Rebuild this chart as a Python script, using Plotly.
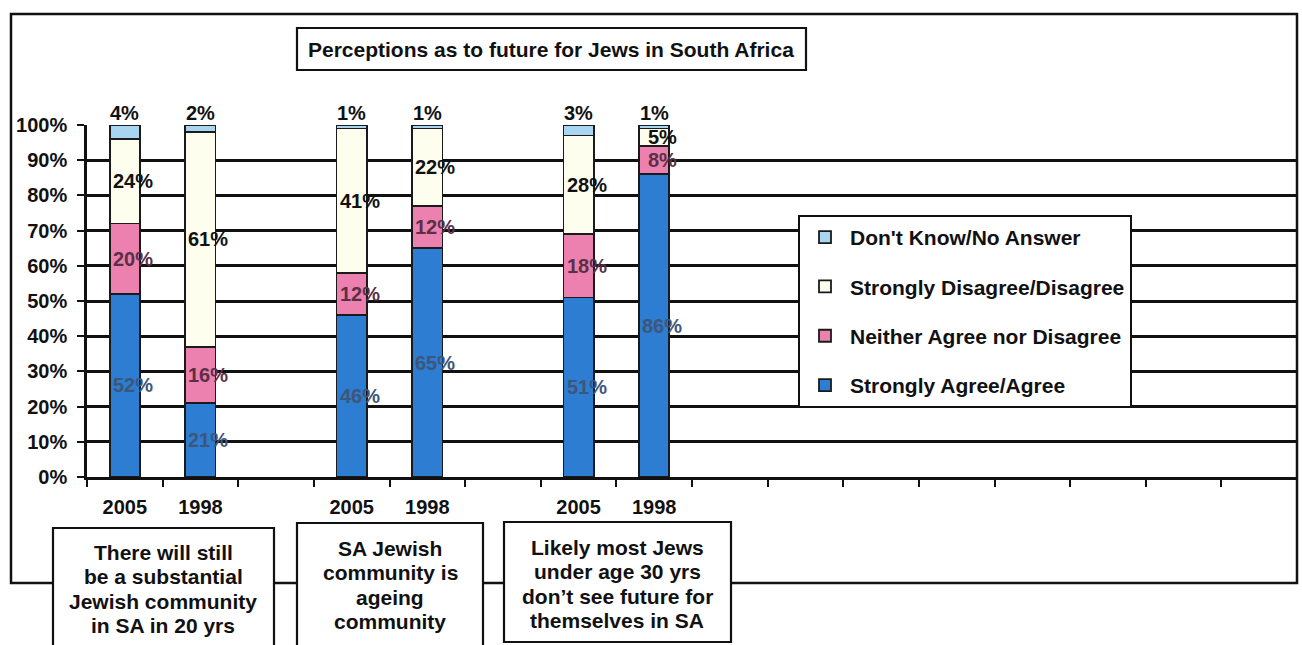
import plotly.graph_objects as go

# Survey responses (percent) per question and survey year
slots = [0, 1, 3, 4, 6, 7]
years = ["2005", "1998", "2005", "1998", "2005", "1998"]
agree = [52, 21, 46, 65, 51, 86]
neither = [20, 16, 12, 12, 18, 8]
disagree = [24, 61, 41, 22, 28, 5]
dont_know = [4, 2, 1, 1, 3, 1]

series_names = [
    "Strongly Agree/Agree",
    "Neither Agree nor Disagree",
    "Strongly Disagree/Disagree",
    "Don't Know/No Answer",
]
series_colors = ["#2D7DD2", "#EC80AE", "#FEFEEE", "#A8D6F0"]
label_colors = ["#3E5679", "#5A3046", "#111111", "#111111"]

questions = [
    ["There will still", "be a substantial", "Jewish community", "in SA in 20 yrs"],
    ["SA Jewish", "community is", "ageing", "community"],
    ["Likely most Jews", "under age 30 yrs", "don’t see future for", "themselves in SA"],
]
title_text = "Perceptions as to future for Jews in South Africa"

FONT = "Liberation Sans, Arial, sans-serif"

# pixel frame of the plotting area
W, H = 1302, 645
L, R, T, B = 87, 1297, 125, 477


def xp(px):
    return (px - L) / (R - L)


def yp(py):
    return (B - py) / (B - T)


fig = go.Figure()
all_series = [agree, neither, disagree, dont_know]
for i, (name, vals, col) in enumerate(zip(series_names, all_series, series_colors)):
    fig.add_trace(go.Bar(
        x=slots, y=vals, name=name, width=0.4,
        marker=dict(color=col, line=dict(color="#1a1a1a", width=1.8)),
        legendgroup=f"g{i}", legendrank=10 - i,
    ))

annotations = []
# value labels centred in each segment
for s in range(len(slots)):
    base = 0
    for k, vals in enumerate(all_series):
        v = vals[s]
        if k == 3:
            annotations.append(dict(
                x=slots[s], y=100, xref="x", yref="y", text=f"{v}%",
                showarrow=False, xanchor="center", yanchor="bottom", yshift=-1,
                font=dict(size=20, color="#111111"),
            ))
        else:
            annotations.append(dict(
                x=slots[s], y=base + v / 2, xref="x", yref="y", text=f"{v}%",
                showarrow=False, xanchor="center", yanchor="middle", xshift=8,
                font=dict(size=20, color=label_colors[k]),
            ))
        base += v

shapes = [
    # outer frame
    dict(type="rect", xref="paper", yref="paper",
         x0=xp(11), x1=xp(1297), y0=yp(583), y1=yp(14),
         line=dict(color="#111111", width=2.5), fillcolor="rgba(0,0,0,0)", layer="above"),
    # title box
    dict(type="rect", xref="paper", yref="paper",
         x0=xp(297), x1=xp(806), y0=yp(70), y1=yp(28),
         line=dict(color="#111111", width=2.2), fillcolor="white", layer="above"),
]
annotations.append(dict(
    x=xp(551), y=yp(49), xref="paper", yref="paper", text=title_text,
    showarrow=False, xanchor="center", yanchor="middle",
    font=dict(size=21, color="#111111"),
))

# question boxes under each pair of bars
boxes = [(53, 274, 528, 660, 163, 552), (297, 483, 523, 660, 390, 548), (504, 731, 522, 642, 617, 547)]
for (x0, x1, y0, y1, cx, first_line), lines in zip(boxes, questions):
    shapes.append(dict(type="rect", xref="paper", yref="paper",
                       x0=xp(x0), x1=xp(x1), y0=yp(y1), y1=yp(y0),
                       line=dict(color="#111111", width=2.2), fillcolor="white", layer="above"))
    for j, line in enumerate(lines):
        annotations.append(dict(
            x=xp(cx), y=yp(first_line + 24.5 * j), xref="paper", yref="paper", text=line,
            showarrow=False, xanchor="center", yanchor="middle",
            font=dict(size=21, color="#111111"),
        ))

fig.update_layout(
    width=W, height=H,
    margin=dict(l=L, r=W - R, t=T, b=H - B, pad=0),
    paper_bgcolor="white", plot_bgcolor="white",
    barmode="stack",
    font=dict(family=FONT, size=20, color="#111111", weight="bold"),
    showlegend=True,
    legend=dict(
        x=xp(798), y=yp(215), xanchor="left", yanchor="top",
        traceorder="grouped", tracegroupgap=19, itemwidth=40,
        bgcolor="white", bordercolor="#111111", borderwidth=2,
        font=dict(size=21, color="#111111"),
    ),
    xaxis=dict(
        range=[-0.5, 15.5], tickmode="array", tickvals=slots, ticktext=years,
        ticks="", showgrid=False, zeroline=False,
        showline=True, linecolor="#111111", linewidth=2.5,
        tickfont=dict(size=20, color="#111111"), ticklabelstandoff=10,
        minor=dict(tickvals=[k - 0.5 for k in range(17)], ticks="outside",
                   ticklen=7, tickwidth=2, tickcolor="#111111"),
        fixedrange=True,
    ),
    yaxis=dict(
        range=[0, 100], dtick=10, ticksuffix="%",
        showgrid=True, gridcolor="#111111", gridwidth=2.5,
        zeroline=False, showline=True, linecolor="#111111", linewidth=2.5,
        ticks="outside", ticklen=7, tickwidth=2, tickcolor="#111111",
        tickfont=dict(size=20, color="#111111"), ticklabelstandoff=6,
        fixedrange=True,
    ),
    shapes=shapes,
    annotations=annotations,
)

fig.write_html("out.html")
